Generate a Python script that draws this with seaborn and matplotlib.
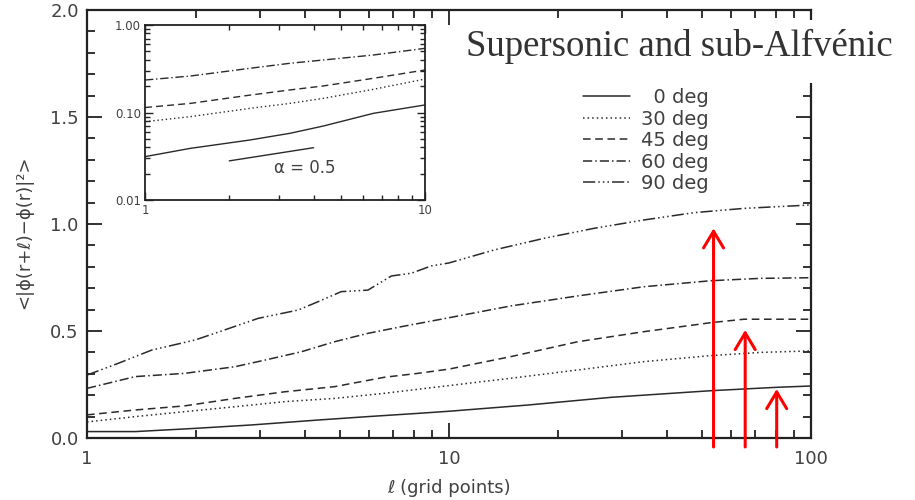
import numpy as np
import pandas as pd
import seaborn as sns
import matplotlib
matplotlib.use("Agg")
import matplotlib.pyplot as plt
from matplotlib.lines import Line2D
from matplotlib.patches import Rectangle
from matplotlib.ticker import FixedLocator, LogLocator, NullFormatter, FuncFormatter, MultipleLocator

# ---------------- data ----------------
angles = ["0 deg", "30 deg", "45 deg", "60 deg", "90 deg"]

x_0 = [1, 1.36, 1.99, 2.85, 4.35, 5.97, 8.20, 10, 16.5, 28.0, 52.9, 80.7, 100]
y_0 = [0.030, 0.030, 0.045, 0.061, 0.084, 0.100, 0.115, 0.125, 0.154, 0.190, 0.221, 0.237, 0.243]

x_30 = [1, 1.36, 1.86, 2.56, 3.52, 4.83, 6.64, 10, 14.8, 22.7, 34.6, 52.9, 72.6, 100]
y_30 = [0.075, 0.100, 0.123, 0.146, 0.170, 0.185, 0.209, 0.245, 0.279, 0.318, 0.357, 0.385, 0.400, 0.407]

x_45 = [1, 1.36, 1.86, 2.56, 3.52, 4.83, 6.64, 8.20, 10, 14.8, 22.7, 34.6, 52.9, 65.3, 100]
y_45 = [0.108, 0.131, 0.150, 0.185, 0.216, 0.240, 0.284, 0.302, 0.322, 0.380, 0.450, 0.497, 0.539, 0.555, 0.555]

x_60 = [1, 1.36, 1.86, 2.56, 3.10, 3.91, 4.83, 5.97, 7.38, 10, 14.8, 22.7, 34.6, 52.9, 72.6, 100]
y_60 = [0.232, 0.287, 0.302, 0.333, 0.364, 0.403, 0.450, 0.489, 0.520, 0.562, 0.617, 0.664, 0.707, 0.735, 0.746, 0.749]

x_90 = [1, 1.22, 1.51, 1.99, 2.40, 2.97, 3.83, 4.35, 5.04, 5.97, 6.93, 7.87, 8.93, 10,
        13.35, 18.3, 25.2, 34.6, 47.5, 65.3, 100]
y_90 = [0.294, 0.349, 0.411, 0.458, 0.505, 0.559, 0.598, 0.637, 0.684, 0.691, 0.757, 0.770, 0.804, 0.818,
        0.879, 0.933, 0.980, 1.019, 1.053, 1.073, 1.089]

# inset (log-log)
inset_x = [1, 1.45, 2.37, 3.29, 4.33, 6.54, 10]
inset_0 = [0.0313, 0.0389, 0.0485, 0.0578, 0.070, 0.0978, 0.122]
inset_30 = [0.0785, 0.0896, 0.1115, 0.127, 0.145, 0.184, 0.241]
inset_45 = [0.114, 0.127, 0.158, 0.181, 0.201, 0.246, 0.306]
inset_60 = [0.235, 0.261, 0.320, 0.365, 0.398, 0.454, 0.541]
slope_x = [2, 4]
slope_y = [0.028, 0.0396]
slope_label = "α = 0.5"

# red arrows (annotations)
arrow_x = [53.8, 65.8, 80.4]
arrow_tip = [0.980, 0.505, 0.229]
arrow_base = -0.042

title_text = "Supersonic and sub-Alfvénic"
xlabel = "ℓ (grid points)"
ylabel = "<|ϕ(r+ℓ)−ϕ(r)|²>"
y_ticks = [0.0, 0.5, 1.0, 1.5, 2.0]
x_ticks = [1, 10, 100]
inset_yticks = [0.01, 0.10, 1.00]
inset_xticks = [1, 10]

# ---------------- styling ----------------
sns.set_style("ticks")
plt.rcParams["font.family"] = ["DejaVu Sans"]
TXT = "#404040"
LINE = "#2a2a2a"
dashes = {
    "0 deg": "",
    "30 deg": (1, 2),
    "45 deg": (5, 3),
    "60 deg": (6, 2, 1, 2),
    "90 deg": (8, 2, 1, 2, 1, 2, 1, 2),
}

main_df = pd.concat([
    pd.DataFrame({"l": x_0, "v": y_0, "angle": "0 deg"}),
    pd.DataFrame({"l": x_30, "v": y_30, "angle": "30 deg"}),
    pd.DataFrame({"l": x_45, "v": y_45, "angle": "45 deg"}),
    pd.DataFrame({"l": x_60, "v": y_60, "angle": "60 deg"}),
    pd.DataFrame({"l": x_90, "v": y_90, "angle": "90 deg"}),
], ignore_index=True)

inset_df = pd.concat([
    pd.DataFrame({"l": inset_x, "v": inset_0, "angle": "0 deg"}),
    pd.DataFrame({"l": inset_x, "v": inset_30, "angle": "30 deg"}),
    pd.DataFrame({"l": inset_x, "v": inset_45, "angle": "45 deg"}),
    pd.DataFrame({"l": inset_x, "v": inset_60, "angle": "60 deg"}),
], ignore_index=True)

W, H = 915, 500
fig = plt.figure(figsize=(W / 100, H / 100), dpi=100)
L, R, T, B = 87, 811, 10, 438
ax = fig.add_axes([L / W, 1 - B / H, (R - L) / W, (B - T) / H])

sns.lineplot(data=main_df, x="l", y="v", style="angle", style_order=angles, dashes=dashes,
             color=LINE, linewidth=1.1, estimator=None, sort=True, legend=False, ax=ax)
ax.set_xscale("log")
ax.set_xlim(1, 100)
ax.set_ylim(0, 2.0)
ax.yaxis.set_major_locator(FixedLocator(y_ticks))
ax.yaxis.set_major_formatter(FuncFormatter(lambda v, p: f"{v:.1f}"))
ax.yaxis.set_minor_locator(MultipleLocator(0.1))
ax.xaxis.set_major_locator(FixedLocator(x_ticks))
ax.xaxis.set_major_formatter(FuncFormatter(lambda v, p: f"{v:g}"))
ax.xaxis.set_minor_locator(LogLocator(base=10, subs=np.arange(2, 10)))
ax.xaxis.set_minor_formatter(NullFormatter())
ax.tick_params(which="both", direction="in", top=True, right=True, color="#222222", width=1.3)
ax.tick_params(which="major", length=11, labelsize=13, labelcolor=TXT)
ax.tick_params(axis="y", which="major", pad=6)
ax.tick_params(axis="x", which="major", pad=9)
ax.tick_params(which="minor", length=6)
for s in ax.spines.values():
    s.set_linewidth(1.6)
    s.set_color("#222222")

ax.set_xlabel(xlabel, fontsize=13, color=TXT)
ax.set_ylabel(ylabel, fontsize=13, color=TXT)
ax.xaxis.set_label_coords(0.5, -0.095)
ax.yaxis.set_label_coords(-0.075, 0.48)

# legend
handles = [Line2D([], [], color=LINE, lw=1.1, linestyle=(0, dashes[a]) if dashes[a] else "-") for a in angles]
labels = ["  0 deg", "30 deg", "45 deg", "60 deg", "90 deg"]
leg = ax.legend(handles, labels, loc="upper left", frameon=False, fontsize=14,
                bbox_to_anchor=(583 / W, 1 - 88 / H), bbox_transform=fig.transFigure,
                borderpad=0, borderaxespad=0, handlelength=2.4, handletextpad=0.6,
                labelspacing=0.13)
for t in leg.get_texts():
    t.set_color(TXT)

# red arrows
for xa, ya in zip(arrow_x, arrow_tip):
    ax.annotate("", xy=(xa, ya), xytext=(xa, arrow_base), xycoords="data", textcoords="data",
                annotation_clip=False,
                arrowprops=dict(arrowstyle="->,head_length=0.6,head_width=0.36", color="red",
                                lw=2.2, shrinkA=0, shrinkB=0, mutation_scale=20))

# inset
iL, iR, iT, iB = 145, 425, 25, 200
axin = fig.add_axes([iL / W, 1 - iB / H, (iR - iL) / W, (iB - iT) / H])
sns.lineplot(data=inset_df, x="l", y="v", style="angle", style_order=angles[:4], dashes=dashes,
             color=LINE, linewidth=1.0, estimator=None, legend=False, ax=axin)
sns.lineplot(x=slope_x, y=slope_y, color=LINE, linewidth=1.0, ax=axin)
axin.set_xscale("log")
axin.set_yscale("log")
axin.set_xlim(1, 10)
axin.set_ylim(0.01, 1.0)
axin.xaxis.set_major_locator(FixedLocator(inset_xticks))
axin.xaxis.set_major_formatter(FuncFormatter(lambda v, p: f"{v:g}"))
axin.xaxis.set_minor_locator(LogLocator(base=10, subs=np.arange(2, 10)))
axin.xaxis.set_minor_formatter(NullFormatter())
axin.yaxis.set_major_locator(FixedLocator(inset_yticks))
axin.yaxis.set_major_formatter(FuncFormatter(lambda v, p: f"{v:.2f}"))
axin.yaxis.set_minor_locator(LogLocator(base=10, subs=np.arange(2, 10)))
axin.yaxis.set_minor_formatter(NullFormatter())
axin.tick_params(which="both", direction="in", top=True, right=True, color="#222222", width=1.0)
axin.tick_params(which="major", length=6, labelsize=8.5, labelcolor=TXT, pad=3)
axin.tick_params(which="minor", length=3.5)
axin.set_xlabel("")
axin.set_ylabel("")
for s in axin.spines.values():
    s.set_linewidth(1.3)
    s.set_color("#222222")
axin.text(2.9, 0.0235, slope_label, fontsize=12, color=TXT, va="center", ha="left")

# title overlay with white backing
fig.add_artist(Rectangle((450 / W, 1 - 83 / H), 460 / W, 63 / H, transform=fig.transFigure,
                         facecolor="white", edgecolor="none", zorder=5))
fig.text(466 / W, 1 - 56 / H, title_text, family="Liberation Serif", fontsize=26.5,
         color="#333333", ha="left", va="baseline", zorder=6)

fig.savefig("out.png", dpi=100)
